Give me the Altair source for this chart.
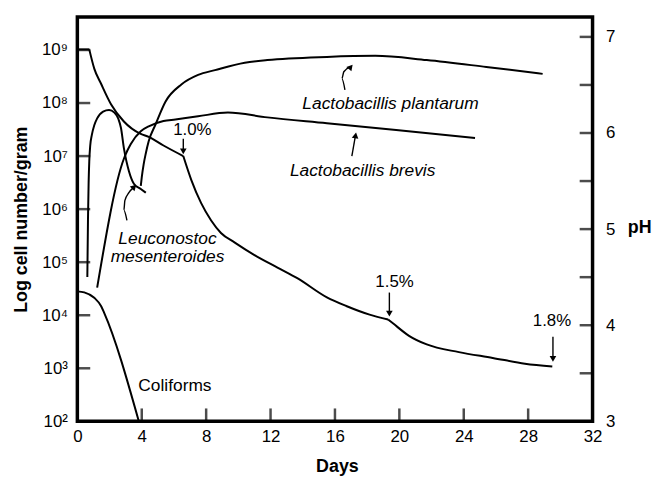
import altair as alt
import pandas as pd

FONT = "Liberation Sans"

# ---- data (days, log10 cells/gram) ----
leuc_day = [0.62, 0.66, 0.70, 0.74, 0.80, 0.90, 1.05, 1.23, 1.60, 1.97, 2.30, 2.55, 2.71, 2.89, 3.05, 3.20, 3.51, 3.94, 4.25]
leuc_log = [4.72, 5.80, 6.50, 6.90, 7.20, 7.40, 7.58, 7.71, 7.84, 7.87, 7.82, 7.70, 7.53, 7.15, 6.90, 6.72, 6.48, 6.38, 6.31]

brev_day = [1.23, 2.89, 3.10, 3.32, 3.94, 4.43, 5.35, 6.09, 7.50, 9.35, 11.8, 15.5, 19.8, 24.7]
brev_log = [4.52, 6.95, 7.10, 7.23, 7.47, 7.56, 7.66, 7.69, 7.75, 7.82, 7.73, 7.62, 7.49, 7.34]

plan_day = [3.94, 4.00, 4.12, 4.25, 4.43, 4.86, 5.48, 6.46, 7.50, 8.55, 10.4, 11.8, 15.5, 18.5, 21.7, 25.4, 28.9]
plan_log = [6.44, 6.60, 6.85, 7.05, 7.28, 7.60, 8.03, 8.35, 8.53, 8.62, 8.76, 8.81, 8.87, 8.89, 8.81, 8.68, 8.55]

coli_day = [0.0, 0.43, 1.05, 1.48, 1.66, 3.80]
coli_log = [4.45, 4.43, 4.33, 4.17, 4.05, 2.02]

# ---- pH curve (days, pH); acidity marks at 1.0%, 1.5%, 1.8% ----
ph_day = [0.0, 0.74, 1.05, 1.48, 2.09, 2.89, 3.94, 4.43, 5.35, 6.58, 7.08, 7.69, 8.31, 8.92, 9.78, 11.0,
          12.43, 13.66, 15.5, 16.7, 18.15, 19.3, 19.6, 20.6, 21.7, 23.7, 25.8, 27.8, 29.5]
ph_val = [6.87, 6.87, 6.67, 6.51, 6.30, 6.12, 5.99, 5.96, 5.87, 5.76, 5.51, 5.27, 5.09, 4.96, 4.86, 4.73,
          4.60, 4.49, 4.29, 4.20, 4.11, 4.06, 4.02, 3.89, 3.80, 3.72, 3.66, 3.60, 3.57]
ph_breaks = [1, 9, 21]  # indices where the curve has a corner

# ---- axis ticks ----
day_ticks = [0, 4, 8, 12, 16, 20, 24, 28, 32]
day_inner = [4, 8, 12, 16, 20, 24, 28]
log_ticks = [2, 3, 4, 5, 6, 7, 8, 9]
ph_ticks = [3, 4, 5, 6, 7]
ph_inner = [3.5, 4, 4.5, 5, 5.5, 6, 6.5, 7]

# ---- annotations ----
log_text = ["Lactobacillis plantarum", "Lactobacillis brevis", "Leuconostoc", "mesenteroides"]
log_text_day = [19.45, 17.72, 5.6, 5.6]
log_text_v = [7.99, 6.72, 5.43, 5.09]
coli_text = ["Coliforms"]
coli_text_day = [6.06]
coli_text_v = [2.67]
ph_text = ["1.0%", "1.5%", "1.8%"]
ph_text_day = [7.14, 19.7, 29.48]
ph_text_v = [6.03, 4.45, 4.04]

log_arrow_id = ["p", "p", "p", "p", "b", "b", "l", "l", "l", "l", "l"]
log_arrow_day = [16.62, 16.43, 16.55, 16.95, 17.05, 17.27, 3.08, 2.89, 2.95, 3.20, 3.50]
log_arrow_v = [8.25, 8.46, 8.59, 8.68, 7.00, 7.38, 5.79, 5.98, 6.16, 6.31, 6.41]
log_head_day = [16.98, 17.28, 3.53]
log_head_v = [8.68, 7.39, 6.42]
log_head_ang = [40, 10, 45]

ph_arrow_id = ["a", "a", "b", "b", "c", "c"]
ph_arrow_day = [6.58, 6.58, 19.38, 19.38, 29.54, 29.54]
ph_arrow_v = [5.94, 5.80, 4.34, 4.12, 3.88, 3.65]
ph_head_day = [6.58, 19.38, 29.54]
ph_head_v = [5.81, 4.12, 3.65]

# ---- frames ----
curves = pd.concat([
    pd.DataFrame({"s": "Leuconostoc", "d": leuc_day, "v": leuc_log}),
    pd.DataFrame({"s": "brevis", "d": brev_day, "v": brev_log}),
    pd.DataFrame({"s": "plantarum", "d": plan_day, "v": plan_log}),
    pd.DataFrame({"s": "coliforms", "d": coli_day, "v": coli_log}),
])
bounds = [0] + ph_breaks + [len(ph_day) - 1]
ph_parts = []
for k in range(len(bounds) - 1):
    a, b = bounds[k], bounds[k + 1]
    ph_parts.append(pd.DataFrame({"seg": k, "d": ph_day[a:b + 1], "v": ph_val[a:b + 1]}))
ph_df = pd.concat(ph_parts)

log_text_df = pd.DataFrame({"t": log_text, "d": log_text_day, "v": log_text_v})
coli_text_df = pd.DataFrame({"t": coli_text, "d": coli_text_day, "v": coli_text_v})
ph_text_df = pd.DataFrame({"t": ph_text, "d": ph_text_day, "v": ph_text_v})
log_arrow_df = pd.DataFrame({"id": log_arrow_id, "d": log_arrow_day, "v": log_arrow_v,
                             "o": list(range(len(log_arrow_id)))})
log_head_df = pd.DataFrame({"d": log_head_day, "v": log_head_v, "a": log_head_ang})
ph_arrow_df = pd.DataFrame({"id": ph_arrow_id, "d": ph_arrow_day, "v": ph_arrow_v,
                            "o": list(range(len(ph_arrow_id)))})
ph_head_df = pd.DataFrame({"d": ph_head_day, "v": ph_head_v})

W, H = 520, 408

X_SCALE = alt.Scale(domain=[0, 32], nice=False, zero=False)
LOG_SCALE = alt.Scale(domain=[2, 9.62], nice=False, zero=False)
PH_SCALE = alt.Scale(domain=[3, 7.206], nice=False, zero=False)

x_axis = alt.Axis(values=day_ticks, title="Days", ticks=False, tickSize=0, domain=False, grid=False,
                  labelFont=FONT, labelFontSize=17, labelPadding=7, labelFlush=False, labelOverlap=False,
                  titleFont=FONT, titleFontSize=18, titleFontWeight="bold", titleColor="black",
                  labelColor="black", titleX=262, titleY=46, titleAlign="center", titleBaseline="middle")
left_axis = alt.Axis(values=log_ticks, orient="left", title="Log cell number/gram", ticks=False, tickSize=0,
                     domain=False, grid=False, labelFont=FONT, labelFontSize=17, labelPadding=10,
                     labelFlush=False, labelOverlap=False, labelColor="black",
                     labelExpr="'10' + ['⁰','¹','²','³','⁴','⁵','⁶','⁷','⁸','⁹'][datum.value]",
                     titleFont=FONT, titleFontSize=18, titleFontWeight="bold", titleColor="black",
                     titleX=-56, titleY=204, titleAngle=270, titleAlign="center", titleBaseline="middle")
right_axis = alt.Axis(values=ph_ticks, orient="right", title="pH", ticks=False, tickSize=0, domain=False,
                      grid=False, labelFont=FONT, labelFontSize=17, labelPadding=13, labelFlush=False,
                      labelOverlap=False, labelColor="black",
                      titleFont=FONT, titleFontSize=18, titleFontWeight="bold", titleColor="black",
                      titleX=47, titleY=212, titleAngle=0, titleAlign="center", titleBaseline="middle")


def X(f):
    return alt.X(f"{f}:Q", scale=X_SCALE, axis=x_axis)


def YL(f):
    return alt.Y(f"{f}:Q", scale=LOG_SCALE, axis=left_axis)


def YR(f):
    return alt.Y(f"{f}:Q", scale=PH_SCALE, axis=right_axis)


# ---- left (log) group ----
curve_layer = alt.Chart(curves).mark_line(color="black", strokeWidth=2, interpolate="monotone").encode(
    x=X("d"), y=YL("v"), detail="s:N")
left_ticks = alt.Chart(pd.DataFrame({"v": log_ticks})).mark_tick(
    color="black", orient="horizontal", size=13, thickness=2.5).encode(y=YL("v"), x=alt.value(6.5))
bottom_ticks = alt.Chart(pd.DataFrame({"d": day_inner})).mark_tick(
    color="black", orient="vertical", size=13, thickness=2.5).encode(x=X("d"), y=alt.value(H - 6.5))
log_labels = alt.Chart(log_text_df).mark_text(font=FONT, fontSize=17.5, fontStyle="italic", color="black",
                                              align="center", baseline="middle").encode(
    x=X("d"), y=YL("v"), text="t:N")
coli_label = alt.Chart(coli_text_df).mark_text(font=FONT, fontSize=17.5, color="black",
                                               align="center", baseline="middle").encode(
    x=X("d"), y=YL("v"), text="t:N")
log_arrows = alt.Chart(log_arrow_df).mark_line(color="black", strokeWidth=1.4, interpolate="monotone").encode(
    x=X("d"), y=YL("v"), detail="id:N", order="o:Q")
log_heads = alt.Chart(log_head_df).mark_point(shape="triangle-up", filled=True, color="black", size=45,
                                              opacity=1).encode(
    x=X("d"), y=YL("v"), angle=alt.Angle("a:Q", scale=None))

left = alt.layer(curve_layer, left_ticks, bottom_ticks, log_labels, coli_label, log_arrows, log_heads)

# ---- right (pH) group ----
ph_line = alt.Chart(ph_df).mark_line(color="black", strokeWidth=2, interpolate="monotone").encode(
    x=X("d"), y=YR("v"), detail="seg:N")
right_ticks = alt.Chart(pd.DataFrame({"v": ph_inner})).mark_tick(
    color="black", orient="horizontal", size=13, thickness=2.5).encode(y=YR("v"), x=alt.value(W - 6.5))
ph_labels = alt.Chart(ph_text_df).mark_text(font=FONT, fontSize=17, color="black",
                                            align="center", baseline="middle").encode(
    x=X("d"), y=YR("v"), text="t:N")
ph_arrows = alt.Chart(ph_arrow_df).mark_line(color="black", strokeWidth=1.4).encode(
    x=X("d"), y=YR("v"), detail="id:N", order="o:Q")
ph_heads = alt.Chart(ph_head_df).mark_point(shape="triangle-down", filled=True, color="black", size=45,
                                            opacity=1).encode(x=X("d"), y=YR("v"))

right = alt.layer(ph_line, right_ticks, ph_labels, ph_arrows, ph_heads)

chart = alt.layer(left, right).resolve_scale(y="independent").properties(
    width=W, height=H,
    autosize=alt.AutoSizeParams(type="none"),
    padding={"left": 70, "top": 7, "right": 60, "bottom": 54},
    background="white",
).configure_view(stroke="black", strokeWidth=3.5)

chart.save("out.html", embed_options={"renderer": "svg", "actions": False})
